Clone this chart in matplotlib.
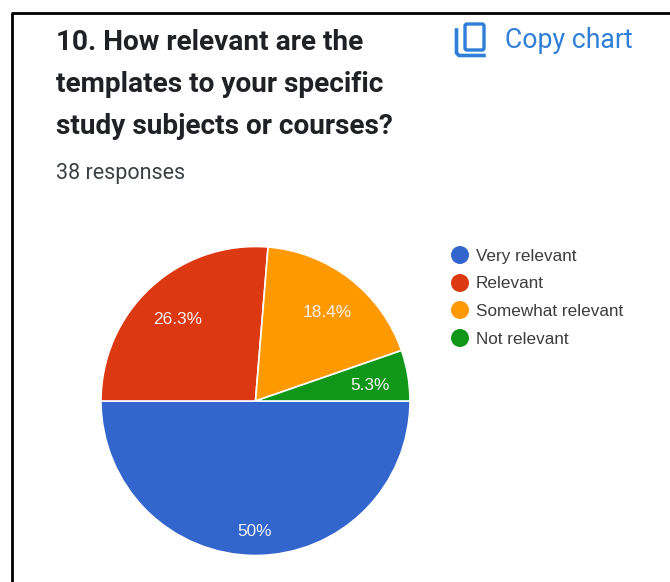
import matplotlib
matplotlib.use('Agg')
import matplotlib.pyplot as plt
from matplotlib.patches import FancyBboxPatch, Circle

# data
categories = ['Very relevant', 'Relevant', 'Somewhat relevant', 'Not relevant']
values = [50, 26.3, 18.4, 5.3]
value_labels = ['50%', '26.3%', '18.4%', '5.3%']
colors = ['#3366cc', '#dc3912', '#ff9900', '#109618']
title_lines = ['10. How relevant are the', 'templates to your specific', 'study subjects or courses?']
subtitle = '38 responses'

H = 582
fig = plt.figure(figsize=(6.7, 5.82), dpi=100)
ax = fig.add_axes([0, 0, 1, 1])

# pie, clockwise from 3 o'clock like the original
wedges, _ = ax.pie(values, colors=colors, startangle=0, counterclock=False,
                   center=(255.5, H - 401), radius=154.5, frame=True,
                   wedgeprops={'edgecolor': 'white', 'linewidth': 1.2})
ax.set_xlim(0, 670)
ax.set_ylim(0, H)
ax.set_aspect('auto')
ax.axis('off')

# frame of the screenshot
ax.plot([12, 12], [0, H - 12.5], color='black', lw=2, solid_capstyle='butt')
ax.plot([11, 670], [H - 12.5, H - 12.5], color='black', lw=2, solid_capstyle='butt')

# title block
for y, line in zip([43, 85, 127], title_lines):
    ax.text(56, H - y, line, family='Roboto', weight='bold', fontsize=20.2,
            color='#202124', va='center', ha='left')
ax.text(56, H - 174, subtitle, family='Roboto', fontsize=15.5, color='#3c4043',
        va='center', ha='left')

# copy chart button
blue = '#2f7fd8'
ax.add_patch(FancyBboxPatch((465, H - 50), 19, 26, boxstyle='round,pad=0,rounding_size=2',
                            fill=False, ec=blue, lw=2.4))
ax.plot([456.5, 456.5, 459, 484], [H - 30, H - 53, H - 55.5, H - 55.5], color=blue, lw=2.6)
ax.text(505, H - 40, 'Copy chart', family='Roboto', fontsize=19.2, color=blue,
        va='center', ha='left')

# slice labels
label_pos = [(255, 530), (178, 318), (327, 311), (370, 384)]
for (x, y), lab in zip(label_pos, value_labels):
    ax.text(x, H - y, lab, family='Liberation Sans', fontsize=12.4, color='#f4f4f4',
            ha='center', va='center_baseline')

# legend
legend_y = [255, 283, 310, 338]
for y, cat, c in zip(legend_y, categories, colors):
    ax.add_patch(Circle((460, H - y), 9, color=c, lw=0))
    ax.text(476, H - y - 5.5, cat, family='Liberation Sans', fontsize=12.3, color='#3c3c3c',
            ha='left', va='baseline')

fig.savefig('out.png', dpi=100)
